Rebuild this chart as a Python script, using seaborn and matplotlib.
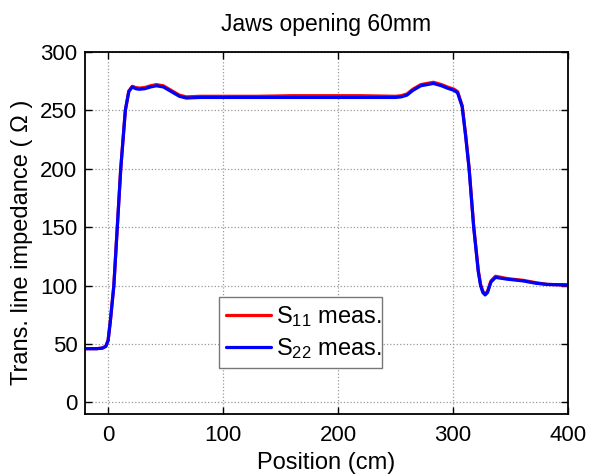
import numpy as np
import pandas as pd
import matplotlib
matplotlib.use("Agg")
import matplotlib.pyplot as plt
import seaborn as sns

# Data
position = [-20, -10, -5, -2, 0, 2, 5, 8, 11, 15, 18, 21, 24, 27, 32, 37, 42, 48, 55, 62, 68,
            80, 100, 130, 160, 190, 220, 250, 255, 260, 265, 272, 283, 290, 295, 301, 304,
            308, 311, 314, 318, 322, 324, 326, 328, 330, 333, 337, 347, 361, 372, 382, 400]
s22 = [46, 46, 46.5, 48, 53, 70, 100, 150, 200, 250, 266, 270, 268.5, 268, 268.5, 270, 271,
       270, 266, 262, 260.5, 261, 261, 261, 261, 261, 261, 261, 261.5, 263, 267, 271, 273,
       271, 269, 267, 265, 253, 228, 200, 150, 112, 100, 94, 92, 94, 103, 107, 105.5, 104,
       102, 101, 100.5]
s11 = [46, 46, 46.5, 48, 53, 70, 100, 150, 200, 250, 266.5, 270.5, 269.5, 269, 269.5, 271,
       272, 271, 267, 263, 261.5, 262, 262, 262, 262.5, 262.5, 262.5, 262, 262.5, 264, 268,
       272, 274, 272, 270, 268, 266, 254, 229, 201, 151, 113, 101, 95, 93, 95, 104, 108,
       106, 104.5, 102.5, 101, 100.5]
series_names = ["S$_{11}$ meas.", "S$_{22}$ meas."]

sns.set_style("ticks")
plt.rcParams["font.family"] = ["Liberation Sans", "DejaVu Sans"]
plt.rcParams["mathtext.fontset"] = "custom"
plt.rcParams["mathtext.rm"] = "Liberation Sans"
plt.rcParams["mathtext.it"] = "Liberation Sans"
plt.rcParams["mathtext.default"] = "regular"
plt.rcParams["text.color"] = "black"
plt.rcParams["axes.labelcolor"] = "black"

df = pd.concat([
    pd.DataFrame({"Position": position, "Z": s11, "series": series_names[0]}),
    pd.DataFrame({"Position": position, "Z": s22, "series": series_names[1]}),
])

fig = plt.figure(figsize=(5.91, 4.76), dpi=100)
ax = fig.add_axes([0.144, 0.130, 0.817, 0.761])

sns.lineplot(data=df, x="Position", y="Z", hue="series", hue_order=series_names,
             palette=["#ff0000", "#0000ff"], linewidth=2.3, ax=ax, sort=False,
             estimator=None)

ax.set_xlim(-20, 400)
ax.set_ylim(-10, 300)
ax.set_xticks([0, 100, 200, 300, 400])
ax.set_yticks([0, 50, 100, 150, 200, 250, 300])
ax.grid(True, linestyle=":", color="#999999", linewidth=0.9)
ax.tick_params(direction="in", length=5, width=1, top=True, right=True,
               labelsize=16, colors="black")
ax.tick_params(axis="x", pad=8)
ax.tick_params(axis="y", pad=5.5)
for s in ax.spines.values():
    s.set_linewidth(1.3)
    s.set_color("black")

ax.set_xlabel("Position (cm)", fontsize=17, labelpad=4, color="black")
ax.set_ylabel("Trans. line impedance ( \u03a9 )", fontsize=17, color="black")
ax.yaxis.set_label_coords(-0.108, 0.475)
ax.set_title("Jaws opening 60mm", fontsize=16.5, pad=15, color="black")

leg = ax.legend(loc="lower left", bbox_to_anchor=(0.277, 0.127, 0.338, 0.238),
                mode="expand", fontsize=17, frameon=True, fancybox=False,
                handlelength=1.9, handletextpad=0.2, borderpad=0.3, labelspacing=0.3,
                borderaxespad=0)
leg.get_frame().set_edgecolor("#777777")
leg.get_frame().set_linewidth(1.0)
leg.get_frame().set_alpha(1)
for t in leg.get_texts():
    t.set_color("black")

fig.savefig("out.png", dpi=100)
